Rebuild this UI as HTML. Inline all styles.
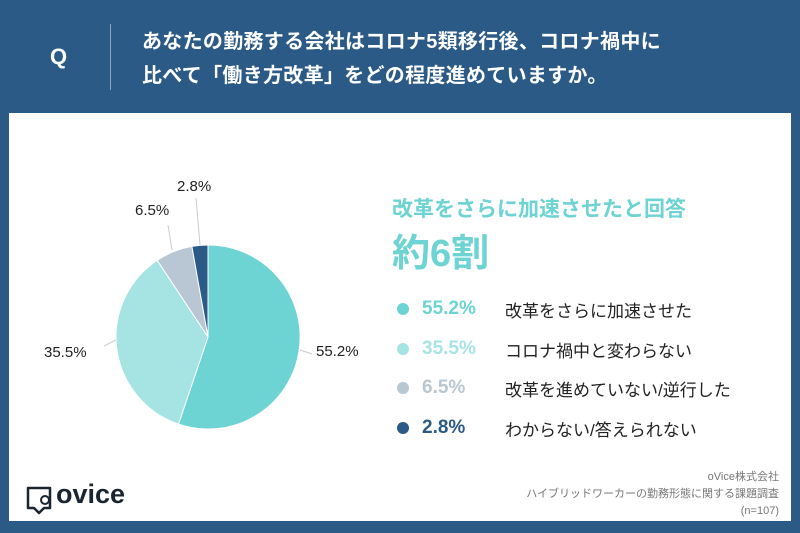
<!DOCTYPE html>
<html><head><meta charset="utf-8"><style>
body{margin:0;width:800px;height:533px;background:#2b5a86;position:relative;overflow:hidden;font-family:"Liberation Sans","Noto Sans CJK JP",sans-serif}
.q{position:absolute;left:50px;top:44px;color:#fff;font-size:22px;font-weight:bold}
.bar{position:absolute;left:110px;top:24px;width:1px;height:66px;background:#8fa8c2}
.title{position:absolute;left:142px;top:25px;color:#fff;font-size:20px;font-weight:bold;line-height:34px;letter-spacing:0.3px}
.panel{position:absolute;left:9px;top:113px;width:782px;height:408px;background:#fff}
.t{position:absolute;white-space:nowrap}
</style></head><body>
<div class="q">Q</div><div class="bar"></div>
<div class="title">あなたの勤務する会社はコロナ5類移行後、コロナ禍中に<br>比べて「働き方改革」をどの程度進めていますか。</div>
<div class="panel"></div>
<svg style="position:absolute;left:0;top:0" width="800" height="533">
<path d="M208,337 L208,245 A92,92 0 1,1 178.5,424.1 Z" fill="#6dd3d3" stroke="#fff" stroke-width="1"/>
<path d="M208,337 L178.5,424.1 A92,92 0 0,1 157.2,260.3 Z" fill="#a6e3e3" stroke="#fff" stroke-width="1"/>
<path d="M208,337 L157.2,260.3 A92,92 0 0,1 191.9,246.4 Z" fill="#b9c6d3" stroke="#fff" stroke-width="1"/>
<path d="M208,337 L191.9,246.4 A92,92 0 0,1 208,245 Z" fill="#2a5a86" stroke="#fff" stroke-width="1"/>
<g stroke="#ccc" stroke-width="1" fill="none">
<polyline points="300,350 312,354"/><polyline points="116,340 104,346"/><polyline points="172,250 168,225"/><polyline points="200,245 196,198"/>
</g>
<circle cx="403" cy="309" r="6" fill="#6dd3d3"/><circle cx="403" cy="349" r="6" fill="#a6e3e3"/>
<circle cx="403" cy="388" r="6" fill="#b9c6d3"/><circle cx="403" cy="428" r="6" fill="#2a5a86"/>
<g fill="#1a2530" stroke="#1a2530" stroke-width="2.5" stroke-linejoin="round">
<path d="M28,488 h22 v20 h-6 l-5,5 -5,-5 h-6 z" fill="none"/>
</g>
<circle cx="45" cy="500" r="4" fill="#fff" stroke="#1a2530" stroke-width="2"/>
</svg>
<div class="t" style="left:316px;top:343px;font-size:15px;color:#222">55.2%</div>
<div class="t" style="left:44px;top:344px;font-size:15px;color:#222">35.5%</div>
<div class="t" style="left:135px;top:202px;font-size:15px;color:#222">6.5%</div>
<div class="t" style="left:177px;top:178px;font-size:15px;color:#222">2.8%</div>
<div class="t" style="left:392px;top:193px;font-size:21px;font-weight:bold;color:#6dd3d3">改革をさらに加速させたと回答</div>
<div class="t" style="left:392px;top:222px;font-size:38px;font-weight:bold;color:#6dd3d3">約6割</div>
<div class="t" style="left:422px;top:298px;font-size:19px;font-weight:bold;color:#6dd3d3">55.2%</div>
<div class="t" style="left:422px;top:338px;font-size:19px;font-weight:bold;color:#a6e3e3">35.5%</div>
<div class="t" style="left:422px;top:377px;font-size:19px;font-weight:bold;color:#b9c6d3">6.5%</div>
<div class="t" style="left:422px;top:417px;font-size:19px;font-weight:bold;color:#2a5a86">2.8%</div>
<div class="t" style="left:505px;top:297px;font-size:17px;color:#222">改革をさらに加速させた</div>
<div class="t" style="left:505px;top:337px;font-size:17px;color:#222">コロナ禍中と変わらない</div>
<div class="t" style="left:505px;top:376px;font-size:17px;color:#222">改革を進めていない/逆行した</div>
<div class="t" style="left:505px;top:416px;font-size:17px;color:#222">わからない/答えられない</div>
<div class="t" style="left:56px;top:479px;font-size:27px;font-weight:bold;color:#1a2530">ovice</div>
<div class="t" style="right:21px;top:469px;font-size:11px;color:#777;text-align:right;line-height:17px">oVice株式会社<br>ハイブリッドワーカーの勤務形態に関する課題調査<br>(n=107)</div>
</body></html>
